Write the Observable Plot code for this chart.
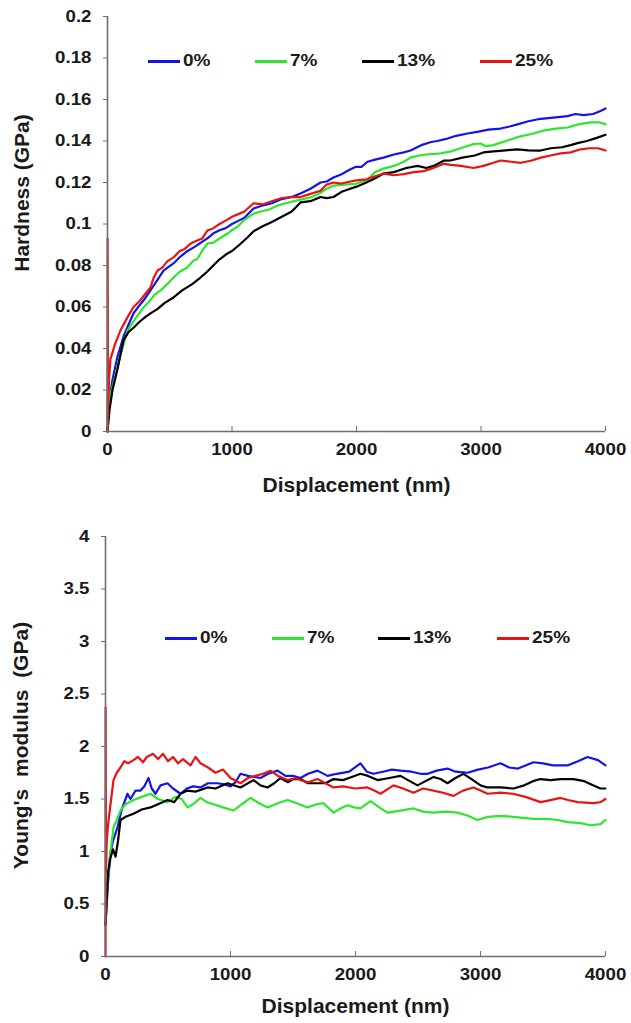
<!DOCTYPE html>
<html>
<head>
<meta charset="utf-8">
<script src="https://cdn.jsdelivr.net/npm/d3@7"></script>
<script src="https://cdn.jsdelivr.net/npm/@observablehq/plot@0.6"></script>
<style>
  body { margin: 0; background: #fff; }
  #wrap { position: relative; width: 631px; height: 1023px; overflow: hidden; font-family: "Liberation Sans", Arial, sans-serif; }
  #top, #bottom { position: absolute; left: 0; }
  #top { top: 0; }
  #bottom { top: 500px; }
  svg text { white-space: pre; }
  .legend { position: absolute; display: flex; align-items: center; font-weight: bold; font-size: 17px; color: #1a1a1a; }
  .legend .sw { display: inline-block; width: 32px; height: 3px; margin-right: 3px; }
  .legend .lb { display: inline-block; transform: scaleX(1.12); transform-origin: left center; }
</style>
</head>
<body>
<div id="wrap">
  <div id="top"></div>
  <div id="bottom"></div>
</div>
<script>
// ---------- data ----------
const seriesNames = ["0%", "7%", "13%", "25%"];
const seriesColors = ["#1414e6", "#2ee62e", "#000000", "#e61414"];

const xTicks = [0, 1000, 2000, 3000, 4000];
const hardnessTicks = [0, 0.02, 0.04, 0.06, 0.08, 0.1, 0.12, 0.14, 0.16, 0.18, 0.2];
const modulusTicks = [0, 0.5, 1, 1.5, 2, 2.5, 3, 3.5, 4];

const xTitle = "Displacement (nm)";
const hardnessTitle = "Hardness (GPa)";
const modulusTitle = "Young's  modulus  (GPa)";

// Hardness (GPa) vs displacement (nm)
const hardness0 = [[0,0],[15,0.015],[40,0.025],[80,0.036],[130,0.046],[180,0.053],[209,0.057],[260,0.061],[300,0.064],[345,0.068],[400,0.073],[450,0.0775],[482,0.079],[530,0.081],[580,0.084],[643,0.087],[700,0.089],[750,0.091],[800,0.093],[851,0.0955],[900,0.097],[950,0.098],[1000,0.1],[1050,0.1015],[1100,0.103],[1173,0.1075],[1250,0.109],[1320,0.11],[1400,0.112],[1480,0.113],[1550,0.1147],[1630,0.117],[1711,0.12],[1760,0.1205],[1815,0.1224],[1880,0.124],[1940,0.126],[1990,0.1275],[2040,0.1275],[2088,0.13],[2150,0.131],[2217,0.132],[2300,0.1335],[2380,0.1345],[2434,0.1354],[2520,0.138],[2600,0.1395],[2650,0.14],[2720,0.141],[2800,0.1425],[2892,0.1436],[2980,0.1445],[3060,0.1455],[3157,0.146],[3230,0.147],[3293,0.148],[3380,0.1495],[3460,0.1505],[3540,0.151],[3620,0.1515],[3695,0.152],[3760,0.153],[3823,0.1525],[3900,0.153],[3960,0.1545],[4000,0.1557]];
const hardness7 = [[0,0],[5,0.035],[8,0.012],[20,0.017],[60,0.026],[100,0.036],[161,0.0487],[220,0.054],[289,0.0598],[340,0.063],[380,0.066],[426,0.068],[480,0.071],[530,0.0742],[580,0.077],[640,0.079],[691,0.0824],[720,0.083],[760,0.087],[803,0.0906],[850,0.091],[900,0.093],[964,0.0954],[1000,0.097],[1050,0.099],[1100,0.102],[1173,0.105],[1230,0.106],[1300,0.107],[1370,0.109],[1430,0.11],[1500,0.111],[1570,0.112],[1640,0.113],[1711,0.115],[1760,0.117],[1815,0.1185],[1900,0.119],[2000,0.1195],[2080,0.121],[2150,0.125],[2217,0.1267],[2300,0.128],[2380,0.13],[2434,0.132],[2500,0.133],[2560,0.1335],[2675,0.134],[2760,0.135],[2860,0.137],[2940,0.1385],[2996,0.1388],[3040,0.1375],[3100,0.138],[3200,0.14],[3300,0.142],[3422,0.1436],[3500,0.145],[3600,0.146],[3695,0.1465],[3780,0.148],[3880,0.149],[3950,0.149],[4000,0.148]];
const hardness13 = [[0,0],[15,0.01],[40,0.02],[80,0.03],[128,0.0439],[170,0.048],[209,0.05],[260,0.053],[300,0.055],[345,0.0569],[400,0.059],[460,0.062],[530,0.0646],[600,0.068],[680,0.071],[747,0.0742],[800,0.077],[850,0.08],[900,0.083],[964,0.0858],[1000,0.087],[1060,0.09],[1124,0.0935],[1173,0.0965],[1250,0.099],[1320,0.101],[1400,0.1035],[1480,0.106],[1550,0.1104],[1630,0.111],[1711,0.113],[1760,0.1125],[1815,0.113],[1880,0.1155],[1950,0.117],[2000,0.118],[2080,0.12],[2150,0.122],[2217,0.1243],[2300,0.125],[2400,0.127],[2490,0.128],[2560,0.127],[2620,0.128],[2700,0.1305],[2755,0.1306],[2850,0.132],[2950,0.133],[3020,0.1345],[3100,0.135],[3200,0.1355],[3293,0.136],[3380,0.1355],[3478,0.1354],[3560,0.1365],[3650,0.137],[3720,0.138],[3775,0.139],[3850,0.14],[3930,0.1415],[4000,0.143]];
const hardness25 = [[0,0],[1,0.093],[4,0.008],[12,0.025],[24,0.035],[60,0.042],[104,0.0487],[160,0.055],[209,0.06],[260,0.063],[300,0.066],[345,0.0694],[370,0.074],[402,0.0776],[440,0.079],[480,0.082],[530,0.0839],[580,0.087],[620,0.088],[667,0.0906],[720,0.092],[760,0.093],[803,0.0969],[850,0.098],[900,0.1],[960,0.102],[1000,0.1035],[1060,0.105],[1100,0.106],[1173,0.11],[1250,0.1095],[1320,0.111],[1400,0.1125],[1480,0.113],[1550,0.113],[1630,0.1145],[1711,0.116],[1760,0.119],[1815,0.12],[1880,0.1195],[1950,0.1205],[2000,0.121],[2080,0.1215],[2150,0.123],[2217,0.1243],[2300,0.1235],[2380,0.124],[2460,0.125],[2540,0.1255],[2618,0.127],[2700,0.129],[2760,0.1285],[2840,0.128],[2940,0.127],[3020,0.128],[3100,0.1295],[3157,0.1306],[3240,0.13],[3320,0.1295],[3400,0.1305],[3480,0.132],[3558,0.133],[3640,0.134],[3720,0.1345],[3800,0.136],[3870,0.1365],[3940,0.1365],[4000,0.1354]];

// Young's modulus (GPa) vs displacement (nm)
const modulus0 = [[0,0.3],[20,0.7],[40,1.0],[60,1.1],[96,1.23],[130,1.4],[176,1.55],[200,1.5],[240,1.58],[280,1.58],[310,1.62],[344,1.7],[370,1.6],[400,1.55],[440,1.63],[496,1.65],[540,1.6],[600,1.55],[650,1.6],[700,1.62],[760,1.61],[820,1.65],[896,1.65],[950,1.64],[1000,1.62],[1040,1.66],[1080,1.74],[1140,1.72],[1240,1.7],[1300,1.74],[1376,1.77],[1440,1.72],[1500,1.72],[1560,1.7],[1620,1.74],[1696,1.77],[1776,1.72],[1850,1.74],[1950,1.76],[2040,1.84],[2090,1.76],[2144,1.74],[2220,1.76],[2290,1.78],[2360,1.77],[2450,1.76],[2520,1.74],[2576,1.74],[2650,1.77],[2736,1.79],[2800,1.76],[2896,1.75],[2980,1.78],[3060,1.8],[3160,1.84],[3230,1.8],[3300,1.79],[3360,1.82],[3424,1.85],[3500,1.84],[3580,1.82],[3696,1.82],[3780,1.86],[3856,1.9],[3940,1.87],[4000,1.82]];
const modulus7 = [[0,0.3],[15,0.7],[40,1.0],[64,1.23],[90,1.3],[120,1.39],[160,1.45],[224,1.49],[290,1.52],[360,1.55],[420,1.5],[496,1.47],[560,1.52],[610,1.5],[656,1.42],[700,1.45],[760,1.51],[810,1.47],[864,1.45],[940,1.42],[1024,1.39],[1090,1.45],[1160,1.51],[1230,1.46],[1296,1.42],[1380,1.46],[1456,1.49],[1530,1.46],[1616,1.42],[1690,1.45],[1744,1.46],[1824,1.37],[1880,1.41],[1936,1.44],[1990,1.42],[2040,1.41],[2120,1.48],[2190,1.42],[2256,1.37],[2360,1.39],[2464,1.41],[2540,1.38],[2620,1.37],[2720,1.38],[2816,1.37],[2900,1.34],[2976,1.3],[3060,1.33],[3160,1.34],[3260,1.33],[3340,1.32],[3424,1.31],[3530,1.31],[3620,1.3],[3696,1.28],[3800,1.27],[3880,1.25],[3960,1.26],[4000,1.3]];
const modulus13 = [[0,0.3],[20,0.8],[40,0.94],[60,1.02],[80,0.95],[100,1.1],[120,1.3],[160,1.33],[224,1.36],[290,1.4],[360,1.42],[420,1.45],[496,1.49],[550,1.47],[600,1.55],[656,1.58],[720,1.57],[816,1.61],[880,1.6],[976,1.65],[1080,1.61],[1184,1.68],[1240,1.63],[1296,1.61],[1350,1.65],[1400,1.7],[1460,1.66],[1500,1.69],[1560,1.69],[1620,1.65],[1696,1.65],[1760,1.65],[1824,1.69],[1900,1.68],[1970,1.71],[2040,1.74],[2100,1.72],[2176,1.68],[2270,1.7],[2360,1.72],[2420,1.68],[2496,1.63],[2560,1.67],[2624,1.71],[2680,1.69],[2736,1.65],[2800,1.7],[2864,1.74],[2940,1.68],[3000,1.63],[3056,1.61],[3160,1.61],[3264,1.6],[3350,1.63],[3420,1.67],[3480,1.69],[3560,1.68],[3640,1.69],[3744,1.69],[3830,1.67],[3900,1.63],[3960,1.6],[4000,1.6]];
const modulus25 = [[0,0],[1,2.37],[4,0.8],[10,1.1],[20,1.25],[40,1.45],[64,1.68],[90,1.75],[120,1.8],[150,1.86],[180,1.84],[224,1.87],[260,1.9],[300,1.85],[330,1.9],[380,1.93],[420,1.88],[460,1.93],[500,1.86],[540,1.9],[580,1.84],[620,1.88],[680,1.82],[720,1.9],[760,1.84],[820,1.8],[880,1.75],[940,1.78],[1000,1.7],[1080,1.65],[1140,1.7],[1200,1.72],[1260,1.74],[1320,1.77],[1380,1.72],[1456,1.68],[1520,1.7],[1560,1.68],[1620,1.66],[1696,1.69],[1760,1.65],[1824,1.61],[1900,1.62],[2000,1.6],[2096,1.61],[2150,1.58],[2200,1.55],[2304,1.63],[2380,1.6],[2464,1.56],[2540,1.6],[2624,1.58],[2700,1.56],[2784,1.53],[2860,1.58],[2944,1.61],[3000,1.58],[3056,1.55],[3160,1.56],[3260,1.55],[3360,1.52],[3480,1.47],[3560,1.49],[3640,1.51],[3700,1.49],[3776,1.47],[3904,1.46],[3960,1.47],[4000,1.5]];

// ---------- build ----------
function toRows(arrays) {
  const rows = [];
  arrays.forEach((arr, i) => arr.forEach(([x, y]) => rows.push({series: seriesNames[i], x, y})));
  return rows;
}
const hardnessRows = toRows([hardness0, hardness7, hardness13, hardness25]);
const modulusRows = toRows([modulus0, modulus7, modulus13, modulus25]);

const axisGray = "#6e6e6e";
const font = "'Liberation Sans', Arial, sans-serif";

function chart({rows, yDomain, yTicks, yTitle, height, marginTop, marginBottom, marginLeft, yTitleDx, yTitleDy, xTitleDy}) {
  const svg = Plot.plot({
    width: 631,
    height,
    marginTop,
    marginBottom,
    marginLeft,
    marginRight: 26,
    style: {fontFamily: font, fontWeight: "bold", fontSize: "17px", color: "#1a1a1a", background: "#fff", overflow: "visible"},
    x: {domain: [0, 4000]},
    y: {domain: yDomain},
    color: {domain: seriesNames, range: seriesColors},
    marks: [
      Plot.line(rows, {x: "x", y: "y", z: "series", stroke: "series", strokeWidth: 2.2, curve: "linear"}),
      Plot.ruleX([0], {stroke: axisGray, strokeWidth: 1.6}),
      Plot.ruleY([yDomain[0]], {stroke: axisGray, strokeWidth: 1.6}),
      Plot.axisY({ticks: yTicks, tickFormat: d => String(+d.toFixed(2)), tickSize: 4, tickPadding: 12, stroke: axisGray, label: null, fontSize: 17}),
      Plot.axisX({ticks: xTicks, tickFormat: d => String(d), tickSize: -5, tickPadding: 16, stroke: axisGray, label: null, fontSize: 17}),
      Plot.text([yTitle], {frameAnchor: "left", textAnchor: "middle", lineAnchor: "middle", rotate: -90, dx: yTitleDx, dy: yTitleDy, fontSize: 21, fontWeight: "bold", fill: "#1a1a1a"}),
      Plot.text([xTitle], {frameAnchor: "bottom", textAnchor: "middle", lineAnchor: "middle", dy: xTitleDy, fontSize: 21, fontWeight: "bold", fill: "#1a1a1a"})
    ]
  });
  // tick labels in the original are slightly wide: stretch horizontally about their anchor
  svg.querySelectorAll('g[aria-label$="tick label"] text').forEach(t => {
    const tr = t.getAttribute("transform");
    if (tr) t.setAttribute("transform", tr + " scale(1.1,1)");
    else {
      const x = +t.getAttribute("x") || 0, y = +t.getAttribute("y") || 0;
      t.removeAttribute("x"); t.removeAttribute("y");
      t.setAttribute("transform", `translate(${x},${y}) scale(1.1,1)`);
    }
  });
  return svg;
}

document.getElementById("top").append(chart({
  rows: hardnessRows, yDomain: [0, 0.2], yTicks: hardnessTicks, yTitle: hardnessTitle,
  height: 500, marginTop: 16, marginBottom: 69, marginLeft: 107, yTitleDx: -85, yTitleDy: -31, xTitleDy: 54
}));
document.getElementById("bottom").append(chart({
  rows: modulusRows, yDomain: [0, 4], yTicks: modulusTicks, yTitle: modulusTitle,
  height: 523, marginTop: 36, marginBottom: 67, marginLeft: 105, yTitleDx: -84, yTitleDy: -1, xTitleDy: 50
}));

// ---------- legends (inside plot areas) ----------
function legend(top, lefts) {
  const wrap = document.getElementById("wrap");
  seriesNames.forEach((name, i) => {
    const item = document.createElement("div");
    item.className = "legend";
    item.style.left = lefts[i] + "px";
    item.style.top = (top - 10) + "px";
    item.style.height = "20px";
    const sw = document.createElement("span");
    sw.className = "sw";
    sw.style.background = seriesColors[i];
    const label = document.createElement("span");
    label.className = "lb";
    label.textContent = name;
    item.append(sw, label);
    wrap.append(item);
  });
}
legend(61, [148, 255, 362, 480]);
legend(638, [165, 272, 378, 497]);
</script>
</body>
</html>
